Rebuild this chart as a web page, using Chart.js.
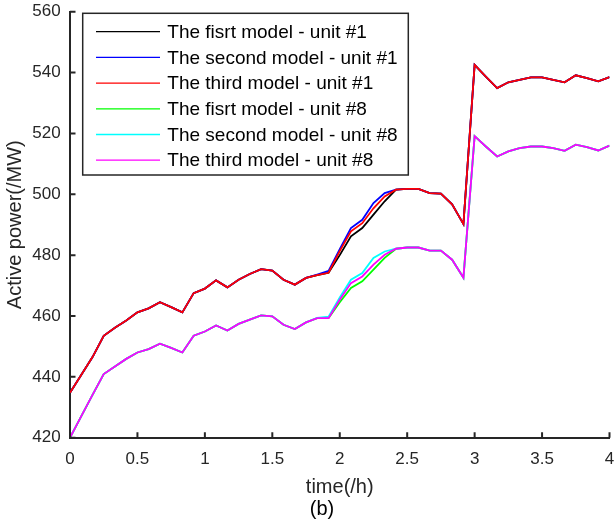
<!DOCTYPE html>
<html>
<head>
<meta charset="utf-8">
<script src="https://cdn.jsdelivr.net/npm/chart.js@4"></script>
<style>
  body { margin: 0; background: #fff; }
  canvas { display: block; }
</style>
</head>
<body>
<canvas id="powerChart" width="616" height="523"></canvas>
<script>
// sampling times (h), every 5 minutes
const timeH = [0, 0.083, 0.167, 0.25, 0.333, 0.417, 0.5, 0.583, 0.667, 0.75, 0.833, 0.917,
  1, 1.083, 1.167, 1.25, 1.333, 1.417, 1.5, 1.583, 1.667, 1.75, 1.833, 1.917,
  2, 2.083, 2.167, 2.25, 2.333, 2.417, 2.5, 2.583, 2.667, 2.75, 2.833, 2.917,
  3, 3.083, 3.167, 3.25, 3.333, 3.417, 3.5, 3.583, 3.667, 3.75, 3.833, 3.917, 4];

// unit #1
const firstUnit1 = [434.8, 440.6, 446.5, 453.5, 456.1, 458.5, 461.2, 462.5, 464.5, 462.9, 461.2, 467.5,
  469.0, 471.7, 469.4, 471.9, 473.8, 475.4, 474.9, 471.9, 470.3, 472.5, 473.4, 474.2,
  480.0, 486.2, 488.9, 493.3, 497.7, 501.5, 501.8, 501.8, 500.4, 500.2, 496.7, 490.2,
  542.5, 538.7, 534.9, 536.8, 537.6, 538.4, 538.4, 537.6, 536.8, 539.1, 538.2, 537.1, 538.5];
const secondUnit1 = [434.8, 440.6, 446.5, 453.5, 456.1, 458.5, 461.2, 462.5, 464.5, 462.9, 461.2, 467.5,
  469.0, 471.7, 469.4, 471.9, 473.8, 475.4, 474.9, 471.9, 470.3, 472.5, 473.6, 474.8,
  482.0, 488.9, 491.6, 497.1, 500.4, 501.5, 501.8, 501.8, 500.4, 500.2, 496.7, 490.2,
  542.5, 538.7, 534.9, 536.8, 537.6, 538.4, 538.4, 537.6, 536.8, 539.1, 538.2, 537.1, 538.5];
const thirdUnit1 = [434.8, 440.6, 446.5, 453.5, 456.1, 458.5, 461.2, 462.5, 464.5, 462.9, 461.2, 467.5,
  469.0, 471.7, 469.4, 471.9, 473.8, 475.4, 474.9, 471.9, 470.3, 472.5, 473.4, 474.2,
  481.3, 487.8, 490.5, 495.4, 499.3, 501.5, 501.8, 501.8, 500.4, 500.2, 496.7, 490.2,
  542.5, 538.7, 534.9, 536.8, 537.6, 538.4, 538.4, 537.6, 536.8, 539.1, 538.2, 537.1, 538.5];

// unit #8
const firstUnit8 = [420.0, 427.0, 434.1, 440.9, 443.4, 445.9, 448.0, 449.1, 450.9, 449.5, 448.0, 453.5,
  454.9, 456.9, 455.2, 457.4, 458.8, 460.2, 459.9, 457.1, 455.7, 457.9, 459.3, 459.3,
  464.5, 469.2, 471.4, 475.2, 479.1, 482.1, 482.5, 482.5, 481.5, 481.5, 478.5, 472.6,
  519.1, 515.7, 512.4, 514.1, 515.2, 515.7, 515.7, 515.2, 514.3, 516.3, 515.5, 514.4, 516.0];
const secondUnit8 = [420.0, 427.0, 434.1, 440.9, 443.4, 445.9, 448.0, 449.1, 450.9, 449.5, 448.0, 453.5,
  454.9, 456.9, 455.2, 457.4, 458.8, 460.2, 459.9, 457.1, 455.7, 457.9, 459.4, 459.8,
  466.1, 471.9, 474.1, 479.1, 481.2, 482.1, 482.5, 482.5, 481.5, 481.5, 478.5, 472.6,
  519.1, 515.7, 512.4, 514.1, 515.2, 515.7, 515.7, 515.2, 514.3, 516.3, 515.5, 514.4, 516.0];
const thirdUnit8 = [420.0, 427.0, 434.1, 440.9, 443.4, 445.9, 448.0, 449.1, 450.9, 449.5, 448.0, 453.5,
  454.9, 456.9, 455.2, 457.4, 458.8, 460.2, 459.9, 457.1, 455.7, 457.9, 459.3, 459.3,
  465.3, 470.8, 473.0, 476.9, 480.1, 482.1, 482.5, 482.5, 481.5, 481.5, 478.5, 472.6,
  519.1, 515.7, 512.4, 514.1, 515.2, 515.7, 515.7, 515.2, 514.3, 516.3, 515.5, 514.4, 516.0];

const seriesLabels = [
  'The fisrt model - unit #1',
  'The second model - unit #1',
  'The third model - unit #1',
  'The fisrt model - unit #8',
  'The second model - unit #8',
  'The third model - unit #8'
];
const seriesValues = [firstUnit1, secondUnit1, thirdUnit1, firstUnit8, secondUnit8, thirdUnit8];
const seriesColors = ['#000000', '#0000ff', '#ff0000', '#00ff00', '#00ffff', '#ff00ff'];

const xTicks = [0, 4, 0.5];     // min, max, step
const yTicks = [420, 560, 20];

const axisColor = '#262626';
const fontFamily = "'Liberation Sans', Arial, sans-serif";

// inward tick marks, like the original figure
const innerTicks = {
  id: 'innerTicks',
  afterDraw(chart) {
    const ctx = chart.ctx;
    const area = chart.chartArea;
    const xs = chart.scales.x, ys = chart.scales.y;
    ctx.save();
    ctx.strokeStyle = axisColor;
    ctx.lineWidth = 2;
    ctx.beginPath();
    xs.ticks.forEach(t => {
      const px = xs.getPixelForValue(t.value);
      ctx.moveTo(px, area.bottom);
      ctx.lineTo(px, area.bottom - 5.5);
    });
    ys.ticks.forEach(t => {
      const py = ys.getPixelForValue(t.value);
      ctx.moveTo(area.left, py);
      ctx.lineTo(area.left + 5.5, py);
    });
    ctx.stroke();
    ctx.restore();
  }
};

// boxed legend inside the top-left of the plot
const boxLegend = {
  id: 'boxLegend',
  afterDraw(chart) {
    const ctx = chart.ctx;
    const area = chart.chartArea;
    const left = area.left + 12.7, top = area.top + 1.6;
    const width = 325.6, height = 161.7;
    ctx.save();
    ctx.fillStyle = '#ffffff';
    ctx.fillRect(left, top, width, height);
    ctx.strokeStyle = axisColor;
    ctx.lineWidth = 1.5;
    ctx.strokeRect(left, top, width, height);
    ctx.font = '19px ' + fontFamily;
    ctx.textBaseline = 'middle';
    ctx.textAlign = 'left';
    chart.data.datasets.forEach((ds, i) => {
      const y = top + 18.4 + i * 25.7;
      ctx.strokeStyle = ds.borderColor;
      ctx.lineWidth = 1.3;
      ctx.beginPath();
      ctx.moveTo(left + 13.3, y);
      ctx.lineTo(left + 77.3, y);
      ctx.stroke();
      ctx.fillStyle = '#000000';
      ctx.fillText(ds.label, left + 84.6, y + 1);
    });
    // panel caption
    ctx.fillStyle = '#000000';
    ctx.font = '20px ' + fontFamily;
    ctx.textAlign = 'center';
    ctx.fillText('(b)', 322, 509);
    ctx.restore();
  }
};

const ctx = document.getElementById('powerChart').getContext('2d');
new Chart(ctx, {
  type: 'line',
  data: {
    datasets: seriesValues.map((vals, i) => ({
      label: seriesLabels[i],
      data: vals.map((v, k) => ({ x: timeH[k], y: v })),
      borderColor: seriesColors[i],
      backgroundColor: seriesColors[i],
      borderWidth: 1.8,
      pointRadius: 0,
      tension: 0,
      fill: false,
      order: seriesValues.length - i
    }))
  },
  options: {
    responsive: false,
    animation: false,
    layout: { autoPadding: false, padding: { top: 11.7, right: 6.5, left: 0, bottom: 0 } },
    plugins: {
      legend: { display: false },
      tooltip: { enabled: false }
    },
    scales: {
      x: {
        type: 'linear',
        min: xTicks[0],
        max: xTicks[1],
        ticks: {
          stepSize: xTicks[2],
          color: axisColor,
          font: { family: fontFamily, size: 17 },
          padding: 11.5,
          maxRotation: 0,
          callback: v => String(Math.round(v * 10) / 10)
        },
        grid: { display: false, drawTicks: false },
        border: { display: true, color: axisColor, width: 2 },
        title: {
          display: true,
          text: 'time(/h)',
          color: axisColor,
          font: { family: fontFamily, size: 20 },
          padding: { top: 0, bottom: 24 }
        },
        afterFit(scale) {
          scale.height = 85.3;
          scale.paddingLeft = 0;
          scale.paddingRight = 0;
        }
      },
      y: {
        min: yTicks[0],
        max: yTicks[1],
        ticks: {
          stepSize: yTicks[2],
          color: axisColor,
          font: { family: fontFamily, size: 17 },
          padding: 9.3
        },
        grid: { display: false, drawTicks: false },
        border: { display: true, color: axisColor, width: 2 },
        title: {
          display: true,
          text: 'Active power(/MW)',
          color: axisColor,
          font: { family: fontFamily, size: 20 },
          padding: { top: 3.5, bottom: 0 }
        },
        afterFit(scale) {
          scale.width = 70;
          scale.paddingTop = 0;
          scale.paddingBottom = 0;
        }
      }
    }
  },
  plugins: [innerTicks, boxLegend]
});
</script>
</body>
</html>
